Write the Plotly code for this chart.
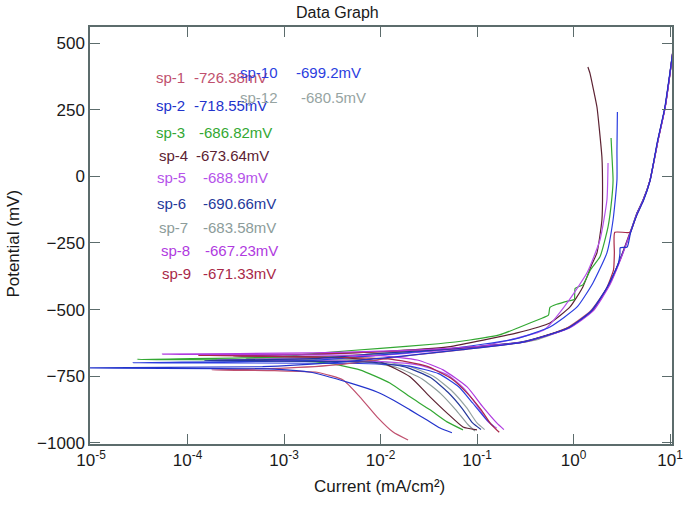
import plotly.graph_objects as go

# ---------------- data ----------------
series_names = ["sp-1", "sp-2", "sp-3", "sp-4", "sp-5", "sp-6", "sp-7", "sp-8", "sp-9", "sp-10", "sp-12"]
ecorr_labels = ["-726.38mV", "-718.55mV", "-686.82mV", "-673.64mV", "-688.9mV", "-690.66mV",
                "-683.58mV", "-667.23mV", "-671.33mV", "-699.2mV", "-680.5mV"]

current_sp1 = [0.0193, 0.0135, 0.0092, 0.0061, 0.0041, 0.0022, 0.0008, 0.00018, 0.0009, 0.004, 0.02, 0.08,
               0.3, 0.8, 1.5, 2.3, 3.0, 3.8, 4.6, 5.3, 6.2, 7.5, 8.9, 10.0, 10.9]
potential_sp1 = [-989, -959, -902, -827, -764, -735, -729, -726.4, -720, -705, -672, -648,
                 -622, -575, -505, -410, -318, -215, -140, -90, -16, 134, 258, 385, 495]

current_sp2 = [0.055, 0.0414, 0.0303, 0.0202, 0.0135, 0.0092, 0.0048, 0.0019, 0.0008, 6e-6, 0.0006, 0.003,
               0.015, 0.07, 0.3, 0.85, 1.5, 2.2, 2.9, 3.03, 3.05, 3.6, 3.9, 4.6, 5.3, 6.2, 7.4, 8.8, 9.9, 11.0]
potential_sp2 = [-962, -944, -914, -876, -839, -809, -775, -735, -723, -718.5, -714, -700,
                 -676, -650, -622, -572, -508, -420, -330, -290, -268, -265, -212, -140, -92, -18, 130, 255, 380, 500]

current_sp3 = [0.0716, 0.0489, 0.0326, 0.0202, 0.0125, 0.0061, 0.0028, 0.001, 3e-5, 0.0008, 0.0025, 0.01,
               0.04, 0.0845, 0.17, 0.28, 0.45, 0.55, 0.57, 0.67, 0.92, 1.02, 1.04, 1.25, 1.5, 1.88, 2.28,
               2.5, 2.57, 2.5, 2.45]
potential_sp3 = [-951, -921, -876, -827, -775, -726, -700, -690, -686.8, -678, -662, -645,
                 -628, -614, -595, -565, -535, -521, -492, -480, -466, -462, -420, -407, -350, -302, -190,
                 -80, -14, 80, 144]

current_sp4 = [0.1, 0.0716, 0.049, 0.0326, 0.0202, 0.0099, 0.004, 0.0003, 0.002, 0.01, 0.05, 0.26,
               0.57, 0.92, 1.25, 1.55, 1.75, 1.97, 2.0, 1.97, 1.85, 1.75, 1.6, 1.48, 1.41]
potential_sp4 = [-951, -940, -888, -827, -752, -696, -680, -673.6, -668, -658, -640, -587,
                 -550, -490, -415, -330, -287, -164, -40, 72, 180, 260, 330, 387, 410]

current_sp5 = [0.16, 0.13, 0.1, 0.075, 0.05, 0.025, 0.01, 0.0002, 0.003, 0.02, 0.1, 0.5,
               0.857, 1.38, 1.88, 2.22, 2.28]
potential_sp5 = [-945, -920, -860, -800, -745, -708, -695, -688.9, -682, -663, -640, -575,
                 -475, -362, -239, -89, 50]

current_sp6 = [0.11, 0.09, 0.07, 0.05, 0.033, 0.018, 0.008, 0.00015, 0.002, 0.01, 0.06, 0.3,
               0.9, 1.58, 2.37, 3.0, 3.85, 4.55, 5.25, 6.2, 7.5, 8.9, 10.0, 11.0]
potential_sp6 = [-950, -925, -870, -810, -755, -715, -697, -690.7, -684, -664, -646, -620,
                 -568, -502, -402, -316, -214, -138, -90, -15, 135, 260, 387, 500]

current_sp7 = [0.095, 0.08, 0.06, 0.042, 0.027, 0.015, 0.006, 0.0004, 0.003, 0.015, 0.07, 0.35,
               0.95, 1.62, 2.4, 3.05, 3.9, 4.6, 5.3, 6.25, 7.55, 8.95, 10.05, 11.0]
potential_sp7 = [-955, -930, -875, -815, -760, -718, -692, -683.6, -677, -660, -645, -618,
                 -562, -498, -398, -312, -210, -135, -87, -12, 138, 262, 390, 500]

current_sp8 = [0.19, 0.16, 0.115, 0.079, 0.0445, 0.024, 0.01, 5.5e-5, 0.002, 0.01, 0.05, 0.3,
               0.9, 1.6, 2.4, 3.03, 3.85, 4.55, 5.25, 6.2, 7.5, 8.9, 10.0, 11.0]
potential_sp8 = [-950, -925, -865, -790, -726, -689, -673, -667.2, -662, -656, -645, -622,
                 -570, -505, -405, -318, -216, -140, -92, -17, 133, 258, 384, 500]

current_sp9 = [0.17, 0.14, 0.11, 0.08, 0.055, 0.03, 0.012, 0.00013, 0.002, 0.012, 0.06, 0.3,
               0.9, 1.58, 2.2, 2.6, 2.65, 2.68, 3.85, 4.55, 5.25, 6.2, 7.5, 8.9, 10.0, 11.0]
potential_sp9 = [-960, -930, -875, -815, -760, -712, -685, -671.3, -667, -657, -645, -621,
                 -566, -502, -420, -350, -287, -210, -210, -139, -91, -16, 135, 259, 386, 500]

current_sp10 = [0.15, 0.12, 0.09, 0.065, 0.04, 0.02, 0.006, 2.7e-5, 0.002, 0.01, 0.05, 0.25,
                0.57, 1.09, 1.59, 2.22, 2.57, 2.82, 2.82, 2.85]
potential_sp10 = [-940, -905, -850, -790, -740, -712, -702, -699.2, -690, -670, -647, -610,
                  -565, -490, -400, -287, -164, -14, 100, 241]

current_sp12 = [0.12, 0.1, 0.078, 0.056, 0.036, 0.02, 0.008, 0.0006, 0.004, 0.02, 0.08, 0.4,
                0.92, 1.59, 2.39, 3.03, 3.85, 4.55, 5.25, 6.2, 7.5, 8.9, 10.0, 11.0]
potential_sp12 = [-950, -925, -868, -808, -752, -713, -690, -680.5, -674, -657, -644, -615,
                  -565, -501, -400, -314, -212, -137, -89, -14, 136, 260, 387, 500]

x_tick_vals = [1e-5, 1e-4, 1e-3, 1e-2, 1e-1, 1e0, 1e1]
x_tick_text = ["10<sup>-5</sup>", "10<sup>-4</sup>", "10<sup>-3</sup>", "10<sup>-2</sup>",
               "10<sup>-1</sup>", "10<sup>0</sup>", "10<sup>1</sup>"]
y_tick_vals = [500, 250, 0, -250, -500, -750, -1000]

# ---------------- styling ----------------
colors = {
    "sp-1": "#c0506e", "sp-2": "#2233cc", "sp-3": "#33a833", "sp-4": "#5c2232",
    "sp-5": "#b552ea", "sp-6": "#24389a", "sp-7": "#8c9c9a", "sp-8": "#b03ae0",
    "sp-9": "#a82848", "sp-10": "#2b3ee0", "sp-12": "#96a4a2",
}
curves = {
    "sp-1": (current_sp1, potential_sp1), "sp-2": (current_sp2, potential_sp2),
    "sp-3": (current_sp3, potential_sp3), "sp-4": (current_sp4, potential_sp4),
    "sp-5": (current_sp5, potential_sp5), "sp-6": (current_sp6, potential_sp6),
    "sp-7": (current_sp7, potential_sp7), "sp-8": (current_sp8, potential_sp8),
    "sp-9": (current_sp9, potential_sp9), "sp-10": (current_sp10, potential_sp10),
    "sp-12": (current_sp12, potential_sp12),
}
draw_order = ["sp-7", "sp-12", "sp-4", "sp-3", "sp-5", "sp-10", "sp-1", "sp-9", "sp-6", "sp-8", "sp-2"]

fig = go.Figure()
for name in draw_order:
    xs, ys = curves[name]
    fig.add_trace(go.Scatter(x=xs, y=ys, mode="lines", name=name,
                             line=dict(color=colors[name], width=1.2, shape="spline", smoothing=0.5),
                             showlegend=False, hoverinfo="skip"))

# label positions (paper coordinates) — layout only
label_pos = {
    "sp-1": (0.110, 0.176, 0.880), "sp-2": (0.110, 0.176, 0.811), "sp-3": (0.110, 0.183, 0.748),
    "sp-4": (0.115, 0.178, 0.691), "sp-5": (0.112, 0.190, 0.638), "sp-6": (0.112, 0.190, 0.576),
    "sp-7": (0.115, 0.190, 0.520), "sp-8": (0.119, 0.194, 0.463), "sp-9": (0.120, 0.190, 0.410),
    "sp-10": (0.255, 0.351, 0.892), "sp-12": (0.255, 0.359, 0.832),
}
annotations = []
for name, val in zip(series_names, ecorr_labels):
    lx, vx, yy = label_pos[name]
    for txt, xx in ((name, lx), (val, vx)):
        annotations.append(dict(text=txt, x=xx, y=yy, xref="paper", yref="paper",
                                xanchor="left", yanchor="middle", showarrow=False,
                                font=dict(family="Liberation Sans, Arial", size=15, color=colors[name])))

axis_font = dict(family="Liberation Sans, Arial", size=17, color="#1a1a1a")
annotations += [
    dict(text="Data Graph", x=0.425, y=1.034, xref="paper", yref="paper", xanchor="center",
         yanchor="middle", showarrow=False, font=dict(family="Liberation Sans, Arial", size=16, color="#1a1a1a")),
    dict(text="Current (mA/cm²)", x=0.498, y=-0.103, xref="paper", yref="paper", xanchor="center",
         yanchor="middle", showarrow=False, font=axis_font),
    dict(text="Potential (mV)", x=-0.131, y=0.48, xref="paper", yref="paper", xanchor="center",
         yanchor="middle", showarrow=False, textangle=-90, font=axis_font),
]

frame = "#5c6c6c"
fig.update_layout(
    width=685, height=511,
    margin=dict(l=90, r=13, t=27, b=67),
    paper_bgcolor="white", plot_bgcolor="white",
    annotations=annotations,
    xaxis=dict(type="log", range=[-5.0104, 1.0207], tickvals=x_tick_vals, ticktext=x_tick_text,
               ticks="inside", ticklen=10, tickwidth=1.3, tickcolor=frame, automargin=False,
               showline=True, linecolor=frame, linewidth=1.5, mirror="ticks",
               showgrid=False, zeroline=False, tickfont=axis_font),
    yaxis=dict(range=[-1004, 560], tickvals=y_tick_vals, ticks="inside", ticklen=10, tickwidth=1.3,
               tickcolor=frame, showline=True, linecolor=frame, linewidth=1.5, mirror="ticks",
               automargin=False, showgrid=False, zeroline=False, tickfont=axis_font),
)

fig.write_html("out.html", config={"displayModeBar": False},
               post_script="document.body.style.margin='0';document.body.style.padding='0';"
                           "document.body.style.overflow='hidden';")
